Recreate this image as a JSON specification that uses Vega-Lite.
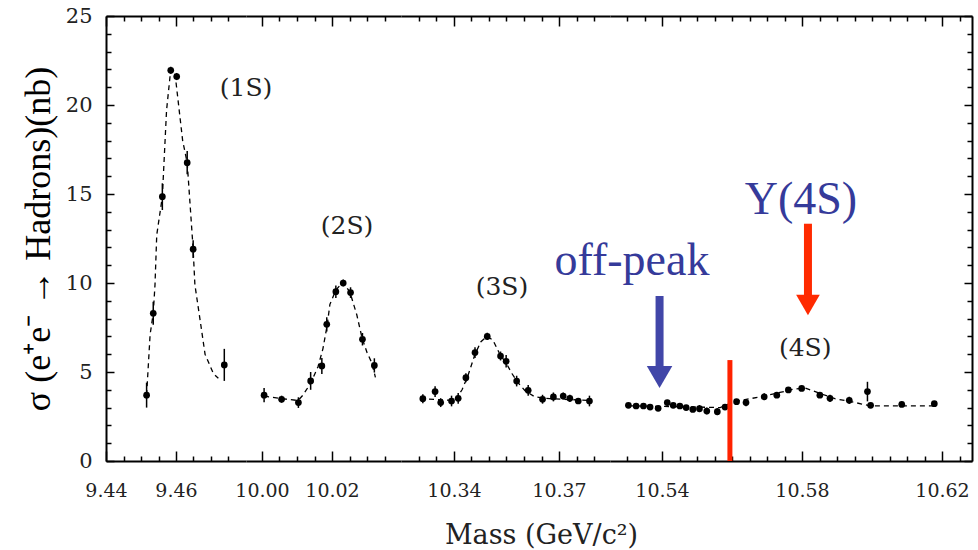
{
  "$schema": "https://vega.github.io/schema/vega-lite/v6.json",
  "background": "white",
  "padding": {"left": 20, "top": 5, "right": 6, "bottom": 0},
  "datasets": {
    "pts": [
      {"seg":1,"mass":9.4516,"nb":3.7,"err":0.7},
      {"seg":1,"mass":9.4535,"nb":8.3,"err":0.65},
      {"seg":1,"mass":9.4561,"nb":14.85,"err":0.75},
      {"seg":1,"mass":9.4585,"nb":21.95,"err":0.2},
      {"seg":1,"mass":9.4602,"nb":21.6,"err":0.2},
      {"seg":1,"mass":9.4632,"nb":16.76,"err":0.65},
      {"seg":1,"mass":9.4649,"nb":11.9,"err":0.5},
      {"seg":1,"mass":9.4738,"nb":5.4,"err":0.9},
      {"seg":2,"mass":10.0006,"nb":3.7,"err":0.4},
      {"seg":2,"mass":10.0056,"nb":3.47,"err":0.2},
      {"seg":2,"mass":10.0104,"nb":3.28,"err":0.3},
      {"seg":2,"mass":10.0139,"nb":4.5,"err":0.5},
      {"seg":2,"mass":10.0171,"nb":5.34,"err":0.45},
      {"seg":2,"mass":10.0185,"nb":7.68,"err":0.4},
      {"seg":2,"mass":10.0211,"nb":9.51,"err":0.35},
      {"seg":2,"mass":10.0232,"nb":10.0,"err":0.2},
      {"seg":2,"mass":10.0253,"nb":9.46,"err":0.3},
      {"seg":2,"mass":10.0287,"nb":6.84,"err":0.35},
      {"seg":2,"mass":10.0321,"nb":5.37,"err":0.4},
      {"seg":3,"mass":10.3311,"nb":3.5,"err":0.25},
      {"seg":3,"mass":10.3346,"nb":3.9,"err":0.3},
      {"seg":3,"mass":10.3362,"nb":3.28,"err":0.25},
      {"seg":3,"mass":10.3393,"nb":3.37,"err":0.3},
      {"seg":3,"mass":10.3412,"nb":3.52,"err":0.3},
      {"seg":3,"mass":10.3434,"nb":4.68,"err":0.25},
      {"seg":3,"mass":10.346,"nb":6.09,"err":0.3},
      {"seg":3,"mass":10.3495,"nb":7.0,"err":0.2},
      {"seg":3,"mass":10.3533,"nb":5.9,"err":0.25},
      {"seg":3,"mass":10.3549,"nb":5.6,"err":0.35},
      {"seg":3,"mass":10.3579,"nb":4.49,"err":0.3},
      {"seg":3,"mass":10.3612,"nb":3.97,"err":0.3},
      {"seg":3,"mass":10.3653,"nb":3.47,"err":0.25},
      {"seg":3,"mass":10.3684,"nb":3.6,"err":0.25},
      {"seg":3,"mass":10.3712,"nb":3.65,"err":0.2},
      {"seg":3,"mass":10.3731,"nb":3.52,"err":0.2},
      {"seg":3,"mass":10.3755,"nb":3.37,"err":0.15},
      {"seg":3,"mass":10.3787,"nb":3.37,"err":0.3},
      {"seg":4,"mass":10.5304,"nb":3.13,"err":0.12},
      {"seg":4,"mass":10.5326,"nb":3.09,"err":0.1},
      {"seg":4,"mass":10.5347,"nb":3.09,"err":0.1},
      {"seg":4,"mass":10.5366,"nb":3.03,"err":0.1},
      {"seg":4,"mass":10.5389,"nb":2.96,"err":0.1},
      {"seg":4,"mass":10.5415,"nb":3.28,"err":0.15},
      {"seg":4,"mass":10.5432,"nb":3.13,"err":0.12},
      {"seg":4,"mass":10.5451,"nb":3.09,"err":0.1},
      {"seg":4,"mass":10.5469,"nb":3.0,"err":0.12},
      {"seg":4,"mass":10.5488,"nb":2.9,"err":0.15},
      {"seg":4,"mass":10.5507,"nb":2.94,"err":0.2},
      {"seg":4,"mass":10.5528,"nb":2.81,"err":0.2},
      {"seg":4,"mass":10.5558,"nb":2.77,"err":0.2},
      {"seg":4,"mass":10.558,"nb":3.03,"err":0.15},
      {"seg":4,"mass":10.5613,"nb":3.33,"err":0.15},
      {"seg":4,"mass":10.564,"nb":3.28,"err":0.2},
      {"seg":4,"mass":10.5692,"nb":3.61,"err":0.2},
      {"seg":4,"mass":10.5728,"nb":3.7,"err":0.15},
      {"seg":4,"mass":10.5761,"nb":3.99,"err":0.12},
      {"seg":4,"mass":10.5799,"nb":4.08,"err":0.12},
      {"seg":4,"mass":10.5851,"nb":3.7,"err":0.15},
      {"seg":4,"mass":10.588,"nb":3.52,"err":0.2},
      {"seg":4,"mass":10.5935,"nb":3.41,"err":0.2},
      {"seg":4,"mass":10.5987,"nb":3.9,"err":0.55},
      {"seg":4,"mass":10.5996,"nb":3.13,"err":0.15},
      {"seg":4,"mass":10.6085,"nb":3.18,"err":0.15},
      {"seg":4,"mass":10.6178,"nb":3.22,"err":0.15}
    ],
    "curve": [
      {"seg":1,"mass":9.4516,"nb":3.7},
      {"seg":1,"mass":9.4526,"nb":7.1},
      {"seg":1,"mass":9.4535,"nb":8.3},
      {"seg":1,"mass":9.454,"nb":9.9},
      {"seg":1,"mass":9.4545,"nb":12.7},
      {"seg":1,"mass":9.4561,"nb":14.85},
      {"seg":1,"mass":9.4573,"nb":19.7},
      {"seg":1,"mass":9.4585,"nb":22.0},
      {"seg":1,"mass":9.4597,"nb":21.8},
      {"seg":1,"mass":9.4619,"nb":18.0},
      {"seg":1,"mass":9.4632,"nb":16.76},
      {"seg":1,"mass":9.4649,"nb":11.9},
      {"seg":1,"mass":9.4654,"nb":9.9},
      {"seg":1,"mass":9.4669,"nb":7.9},
      {"seg":1,"mass":9.4683,"nb":6.0},
      {"seg":1,"mass":9.4707,"nb":4.9},
      {"seg":1,"mass":9.4721,"nb":4.65},
      {"seg":2,"mass":10.0006,"nb":3.65},
      {"seg":2,"mass":10.0057,"nb":3.5},
      {"seg":2,"mass":10.0103,"nb":3.4},
      {"seg":2,"mass":10.0117,"nb":3.7},
      {"seg":2,"mass":10.014,"nb":4.4},
      {"seg":2,"mass":10.016,"nb":5.3},
      {"seg":2,"mass":10.0174,"nb":6.3},
      {"seg":2,"mass":10.0186,"nb":7.6},
      {"seg":2,"mass":10.0194,"nb":8.8},
      {"seg":2,"mass":10.0211,"nb":9.6},
      {"seg":2,"mass":10.0231,"nb":10.05},
      {"seg":2,"mass":10.0251,"nb":9.5},
      {"seg":2,"mass":10.0271,"nb":8.2},
      {"seg":2,"mass":10.0286,"nb":6.9},
      {"seg":2,"mass":10.03,"nb":6.1},
      {"seg":2,"mass":10.0314,"nb":5.5},
      {"seg":2,"mass":10.0324,"nb":4.7},
      {"seg":3,"mass":10.3303,"nb":3.5},
      {"seg":3,"mass":10.3351,"nb":3.45},
      {"seg":3,"mass":10.3403,"nb":3.4},
      {"seg":3,"mass":10.3423,"nb":4.0},
      {"seg":3,"mass":10.344,"nb":4.8},
      {"seg":3,"mass":10.346,"nb":6.0},
      {"seg":3,"mass":10.3477,"nb":6.7},
      {"seg":3,"mass":10.3494,"nb":7.0},
      {"seg":3,"mass":10.3511,"nb":6.8},
      {"seg":3,"mass":10.3531,"nb":6.0},
      {"seg":3,"mass":10.3549,"nb":5.5},
      {"seg":3,"mass":10.3566,"nb":4.9},
      {"seg":3,"mass":10.3583,"nb":4.4},
      {"seg":3,"mass":10.3603,"nb":3.95},
      {"seg":3,"mass":10.3631,"nb":3.6},
      {"seg":3,"mass":10.3674,"nb":3.5},
      {"seg":3,"mass":10.3731,"nb":3.45},
      {"seg":3,"mass":10.3789,"nb":3.4},
      {"seg":4,"mass":10.5303,"nb":3.1},
      {"seg":4,"mass":10.5451,"nb":3.05},
      {"seg":4,"mass":10.5566,"nb":3.0},
      {"seg":4,"mass":10.5609,"nb":3.35},
      {"seg":4,"mass":10.568,"nb":3.6},
      {"seg":4,"mass":10.5737,"nb":3.85},
      {"seg":4,"mass":10.578,"nb":4.05},
      {"seg":4,"mass":10.5809,"nb":4.1},
      {"seg":4,"mass":10.5851,"nb":3.8},
      {"seg":4,"mass":10.5894,"nb":3.5},
      {"seg":4,"mass":10.5937,"nb":3.35},
      {"seg":4,"mass":10.5971,"nb":3.2},
      {"seg":4,"mass":10.5994,"nb":3.1},
      {"seg":4,"mass":10.618,"nb":3.1}
    ],
    "labels": [
      {"seg":1,"mass":9.48,"nb":20.95,"label":"(1S)"},
      {"seg":2,"mass":10.0243,"nb":13.2,"label":"(2S)"},
      {"seg":3,"mass":10.3537,"nb":9.78,"label":"(3S)"},
      {"seg":4,"mass":10.5809,"nb":6.35,"label":"(4S)"}
    ],
    "redline": [{"mass":10.5594,"lo":0,"hi":5.67}],
    "arrows": [
      {"label":"off-peak","mass":10.5393,"top":9.27,"head":4.72,"textMass":10.5314,"textNb":10.45},
      {"label":"Y(4S)","mass":10.5817,"top":13.33,"head":8.76,"textMass":10.5797,"textNb":13.88}
    ]
  },
  "spacing": 0,
  "bounds": "flush",
  "title": {"text": "Mass (GeV/c²)", "orient": "bottom", "anchor": "middle", "font": "DejaVu Serif", "fontSize": 27, "fontWeight": "normal", "color": "#222222", "offset": 23, "dx": 45},
  "hconcat": [
    {
      "width": 140, "height": 445,
      "layer": [
        {"data": {"name": "curve"}, "transform": [{"filter": "datum.seg == 1"}],
         "mark": {"type": "line", "color": "black", "strokeWidth": 1.3, "strokeDash": [5, 4]},
         "encoding": {
           "x": {"field": "mass", "type": "quantitative", "scale": {"domain": [9.44, 9.48], "nice": false, "zero": false},
                 "axis": {"orient": "bottom", "values": [9.44, 9.46], "format": ".2f", "tickSize": -10, "labelPadding": 30, "title": null}},
           "y": {"field": "nb", "type": "quantitative", "scale": {"domain": [0, 25], "nice": false},
                 "axis": {"orient": "left", "values": [0, 5, 10, 15, 20, 25], "tickSize": -8, "labelPadding": 22, "labelFontSize": 21, "title": "σ (e⁺e⁻ → Hadrons)(nb)", "titleFont": "Liberation Serif", "titleFontSize": 36, "titleFontWeight": "normal", "titleColor": "black", "titlePadding": 8}}}},
        {"data": {"name": "pts"}, "transform": [{"filter": "datum.seg == 1"}],
         "mark": {"type": "errorbar", "color": "black", "thickness": 1.5},
         "encoding": {
           "x": {"field": "mass", "type": "quantitative", "scale": {"domain": [9.44, 9.48], "nice": false, "zero": false},
                 "axis": {"orient": "bottom", "values": [9.445, 9.45, 9.455, 9.465, 9.47, 9.475], "tickSize": -5, "labels": false, "domain": false, "title": null}},
           "y": {"field": "nb", "type": "quantitative", "scale": {"domain": [0, 25], "nice": false},
                 "axis": {"orient": "left", "values": [1,2,3,4,6,7,8,9,11,12,13,14,16,17,18,19,21,22,23,24], "tickSize": -5, "labels": false, "domain": false, "title": null}},
           "yError": {"field": "err"}}},
        {"data": {"name": "pts"}, "transform": [{"filter": "datum.seg == 1"}],
         "mark": {"type": "point", "filled": true, "color": "black", "size": 45, "opacity": 1},
         "encoding": {
           "x": {"field": "mass", "type": "quantitative", "scale": {"domain": [9.44, 9.48], "nice": false, "zero": false},
                 "axis": {"orient": "top", "values": [9.44, 9.46], "tickSize": -10, "labels": false, "title": null}},
           "y": {"field": "nb", "type": "quantitative", "scale": {"domain": [0, 25], "nice": false}, "axis": null}}},
        {"data": {"name": "labels"}, "transform": [{"filter": "datum.seg == 1"}],
         "mark": {"type": "text", "font": "DejaVu Serif", "fontSize": 25, "color": "#222222", "align": "center", "baseline": "middle"},
         "encoding": {
           "x": {"field": "mass", "type": "quantitative", "scale": {"domain": [9.44, 9.48], "nice": false, "zero": false},
                 "axis": {"orient": "top", "values": [9.445, 9.45, 9.455, 9.465, 9.47, 9.475], "tickSize": -5, "labels": false, "domain": false, "title": null}},
           "y": {"field": "nb", "type": "quantitative", "scale": {"domain": [0, 25], "nice": false}, "axis": null},
           "text": {"field": "label"}}}
      ],
      "resolve": {"axis": {"x": "independent", "y": "independent"}}
    },
    {
      "width": 155, "height": 445,
      "layer": [
        {"data": {"name": "curve"}, "transform": [{"filter": "datum.seg == 2"}],
         "mark": {"type": "line", "color": "black", "strokeWidth": 1.3, "strokeDash": [5, 4]},
         "encoding": {
           "x": {"field": "mass", "type": "quantitative", "scale": {"domain": [9.99543, 10.03971], "nice": false, "zero": false},
                 "axis": {"orient": "bottom", "values": [10.0, 10.02], "format": ".2f", "tickSize": -10, "labelPadding": 30, "title": null}},
           "y": {"field": "nb", "type": "quantitative", "scale": {"domain": [0, 25], "nice": false}, "axis": null}}},
        {"data": {"name": "pts"}, "transform": [{"filter": "datum.seg == 2"}],
         "mark": {"type": "errorbar", "color": "black", "thickness": 1.5},
         "encoding": {
           "x": {"field": "mass", "type": "quantitative", "scale": {"domain": [9.99543, 10.03971], "nice": false, "zero": false},
                 "axis": {"orient": "bottom", "values": [10.005, 10.01, 10.015, 10.025, 10.03, 10.035], "tickSize": -5, "labels": false, "domain": false, "title": null}},
           "y": {"field": "nb", "type": "quantitative", "scale": {"domain": [0, 25], "nice": false}, "axis": null},
           "yError": {"field": "err"}}},
        {"data": {"name": "pts"}, "transform": [{"filter": "datum.seg == 2"}],
         "mark": {"type": "point", "filled": true, "color": "black", "size": 45, "opacity": 1},
         "encoding": {
           "x": {"field": "mass", "type": "quantitative", "scale": {"domain": [9.99543, 10.03971], "nice": false, "zero": false},
                 "axis": {"orient": "top", "values": [10.0, 10.02], "tickSize": -10, "labels": false, "title": null}},
           "y": {"field": "nb", "type": "quantitative", "scale": {"domain": [0, 25], "nice": false}, "axis": null}}},
        {"data": {"name": "labels"}, "transform": [{"filter": "datum.seg == 2"}],
         "mark": {"type": "text", "font": "DejaVu Serif", "fontSize": 25, "color": "#222222", "align": "center", "baseline": "middle"},
         "encoding": {
           "x": {"field": "mass", "type": "quantitative", "scale": {"domain": [9.99543, 10.03971], "nice": false, "zero": false},
                 "axis": {"orient": "top", "values": [10.005, 10.01, 10.015, 10.025, 10.03, 10.035], "tickSize": -5, "labels": false, "domain": false, "title": null}},
           "y": {"field": "nb", "type": "quantitative", "scale": {"domain": [0, 25], "nice": false}, "axis": null},
           "text": {"field": "label"}}}
      ],
      "resolve": {"axis": {"x": "independent", "y": "independent"}}
    },
    {
      "width": 209, "height": 445,
      "layer": [
        {"data": {"name": "curve"}, "transform": [{"filter": "datum.seg == 3"}],
         "mark": {"type": "line", "color": "black", "strokeWidth": 1.3, "strokeDash": [5, 4]},
         "encoding": {
           "x": {"field": "mass", "type": "quantitative", "scale": {"domain": [10.32486, 10.38457], "nice": false, "zero": false},
                 "axis": {"orient": "bottom", "values": [10.34, 10.37], "format": ".2f", "tickSize": -10, "labelPadding": 30, "title": null}},
           "y": {"field": "nb", "type": "quantitative", "scale": {"domain": [0, 25], "nice": false}, "axis": null}}},
        {"data": {"name": "pts"}, "transform": [{"filter": "datum.seg == 3"}],
         "mark": {"type": "errorbar", "color": "black", "thickness": 1.5},
         "encoding": {
           "x": {"field": "mass", "type": "quantitative", "scale": {"domain": [10.32486, 10.38457], "nice": false, "zero": false},
                 "axis": {"orient": "bottom", "values": [10.33, 10.335, 10.345, 10.35, 10.355, 10.36, 10.365, 10.375, 10.38], "tickSize": -5, "labels": false, "domain": false, "title": null}},
           "y": {"field": "nb", "type": "quantitative", "scale": {"domain": [0, 25], "nice": false}, "axis": null},
           "yError": {"field": "err"}}},
        {"data": {"name": "pts"}, "transform": [{"filter": "datum.seg == 3"}],
         "mark": {"type": "point", "filled": true, "color": "black", "size": 45, "opacity": 1},
         "encoding": {
           "x": {"field": "mass", "type": "quantitative", "scale": {"domain": [10.32486, 10.38457], "nice": false, "zero": false},
                 "axis": {"orient": "top", "values": [10.34, 10.37], "tickSize": -10, "labels": false, "title": null}},
           "y": {"field": "nb", "type": "quantitative", "scale": {"domain": [0, 25], "nice": false}, "axis": null}}},
        {"data": {"name": "labels"}, "transform": [{"filter": "datum.seg == 3"}],
         "mark": {"type": "text", "font": "DejaVu Serif", "fontSize": 25, "color": "#222222", "align": "center", "baseline": "middle"},
         "encoding": {
           "x": {"field": "mass", "type": "quantitative", "scale": {"domain": [10.32486, 10.38457], "nice": false, "zero": false},
                 "axis": {"orient": "top", "values": [10.33, 10.335, 10.345, 10.35, 10.355, 10.36, 10.365, 10.375, 10.38], "tickSize": -5, "labels": false, "domain": false, "title": null}},
           "y": {"field": "nb", "type": "quantitative", "scale": {"domain": [0, 25], "nice": false}, "axis": null},
           "text": {"field": "label"}}}
      ],
      "resolve": {"axis": {"x": "independent", "y": "independent"}}
    },
    {
      "width": 362, "height": 445,
      "layer": [
        {"data": {"name": "curve"}, "transform": [{"filter": "datum.seg == 4"}],
         "mark": {"type": "line", "color": "black", "strokeWidth": 1.3, "strokeDash": [5, 4]},
         "encoding": {
           "x": {"field": "mass", "type": "quantitative", "scale": {"domain": [10.52514, 10.62857], "nice": false, "zero": false},
                 "axis": {"orient": "bottom", "values": [10.54, 10.58, 10.62], "format": ".2f", "tickSize": -10, "labelPadding": 30, "title": null}},
           "y": {"field": "nb", "type": "quantitative", "scale": {"domain": [0, 25], "nice": false},
                 "axis": {"orient": "right", "values": [0, 5, 10, 15, 20, 25], "tickSize": -8, "labels": false, "title": null}}}},
        {"data": {"name": "pts"}, "transform": [{"filter": "datum.seg == 4"}],
         "mark": {"type": "errorbar", "color": "black", "thickness": 1.5},
         "encoding": {
           "x": {"field": "mass", "type": "quantitative", "scale": {"domain": [10.52514, 10.62857], "nice": false, "zero": false},
                 "axis": {"orient": "bottom", "values": [10.53, 10.535, 10.545, 10.55, 10.555, 10.56, 10.565, 10.57, 10.575, 10.585, 10.59, 10.595, 10.6, 10.605, 10.61, 10.615, 10.625], "tickSize": -5, "labels": false, "domain": false, "title": null}},
           "y": {"field": "nb", "type": "quantitative", "scale": {"domain": [0, 25], "nice": false},
                 "axis": {"orient": "right", "values": [1,2,3,4,6,7,8,9,11,12,13,14,16,17,18,19,21,22,23,24], "tickSize": -5, "labels": false, "domain": false, "title": null}},
           "yError": {"field": "err"}}},
        {"data": {"name": "pts"}, "transform": [{"filter": "datum.seg == 4"}],
         "mark": {"type": "point", "filled": true, "color": "black", "size": 45, "opacity": 1},
         "encoding": {
           "x": {"field": "mass", "type": "quantitative", "scale": {"domain": [10.52514, 10.62857], "nice": false, "zero": false},
                 "axis": {"orient": "top", "values": [10.54, 10.58, 10.62], "tickSize": -10, "labels": false, "title": null}},
           "y": {"field": "nb", "type": "quantitative", "scale": {"domain": [0, 25], "nice": false}, "axis": null}}},
        {"data": {"name": "labels"}, "transform": [{"filter": "datum.seg == 4"}],
         "mark": {"type": "text", "font": "DejaVu Serif", "fontSize": 25, "color": "#222222", "align": "center", "baseline": "middle"},
         "encoding": {
           "x": {"field": "mass", "type": "quantitative", "scale": {"domain": [10.52514, 10.62857], "nice": false, "zero": false},
                 "axis": {"orient": "top", "values": [10.53, 10.535, 10.545, 10.55, 10.555, 10.56, 10.565, 10.57, 10.575, 10.585, 10.59, 10.595, 10.6, 10.605, 10.61, 10.615, 10.625], "tickSize": -5, "labels": false, "domain": false, "title": null}},
           "y": {"field": "nb", "type": "quantitative", "scale": {"domain": [0, 25], "nice": false}, "axis": null},
           "text": {"field": "label"}}},
        {"data": {"name": "redline"},
         "mark": {"type": "rule", "color": "#ff2200", "strokeWidth": 5},
         "encoding": {
           "x": {"field": "mass", "type": "quantitative", "scale": {"domain": [10.52514, 10.62857], "nice": false, "zero": false}, "axis": null},
           "y": {"field": "lo", "type": "quantitative", "scale": {"domain": [0, 25], "nice": false}, "axis": null},
           "y2": {"field": "hi"}}},
        {"data": {"name": "arrows"}, "transform": [{"filter": "datum.label == 'off-peak'"}],
         "layer": [
           {"mark": {"type": "rule", "color": "#4146a8", "strokeWidth": 8},
            "encoding": {"y": {"field": "top", "type": "quantitative", "scale": {"domain": [0, 25], "nice": false}, "axis": null}, "y2": {"field": "head"}}},
           {"mark": {"type": "point", "shape": "triangle-down", "filled": true, "color": "#4146a8", "size": 650, "opacity": 1},
            "encoding": {"y": {"field": "head", "type": "quantitative", "scale": {"domain": [0, 25], "nice": false}, "axis": null}}},
           {"mark": {"type": "text", "font": "Liberation Serif", "fontSize": 46, "color": "#353a9a", "align": "center", "baseline": "alphabetic"},
            "encoding": {"x": {"field": "textMass", "type": "quantitative", "scale": {"domain": [10.52514, 10.62857], "nice": false, "zero": false}, "axis": null},
                         "y": {"field": "textNb", "type": "quantitative", "scale": {"domain": [0, 25], "nice": false}, "axis": null},
                         "text": {"field": "label"}}}
         ],
         "encoding": {"x": {"field": "mass", "type": "quantitative", "scale": {"domain": [10.52514, 10.62857], "nice": false, "zero": false}, "axis": null}}},
        {"data": {"name": "arrows"}, "transform": [{"filter": "datum.label == 'Y(4S)'"}],
         "layer": [
           {"mark": {"type": "rule", "color": "#ff2a00", "strokeWidth": 8},
            "encoding": {"y": {"field": "top", "type": "quantitative", "scale": {"domain": [0, 25], "nice": false}, "axis": null}, "y2": {"field": "head"}}},
           {"mark": {"type": "point", "shape": "triangle-down", "filled": true, "color": "#ff2a00", "size": 560, "opacity": 1},
            "encoding": {"y": {"field": "head", "type": "quantitative", "scale": {"domain": [0, 25], "nice": false}, "axis": null}}},
           {"mark": {"type": "text", "font": "Liberation Serif", "fontSize": 46, "color": "#353a9a", "align": "center", "baseline": "alphabetic"},
            "encoding": {"x": {"field": "textMass", "type": "quantitative", "scale": {"domain": [10.52514, 10.62857], "nice": false, "zero": false}, "axis": null},
                         "y": {"field": "textNb", "type": "quantitative", "scale": {"domain": [0, 25], "nice": false}, "axis": null},
                         "text": {"field": "label"}}}
         ],
         "encoding": {"x": {"field": "mass", "type": "quantitative", "scale": {"domain": [10.52514, 10.62857], "nice": false, "zero": false}, "axis": null}}}
      ],
      "resolve": {"axis": {"x": "independent", "y": "independent"}}
    }
  ],
  "config": {
    "view": {"stroke": null},
    "axis": {"grid": false, "labelFlush": false, "domainColor": "black", "domainWidth": 2, "tickColor": "black", "tickWidth": 1.5, "labelColor": "#222222", "labelFont": "DejaVu Serif", "labelFontSize": 19}
  }
}
